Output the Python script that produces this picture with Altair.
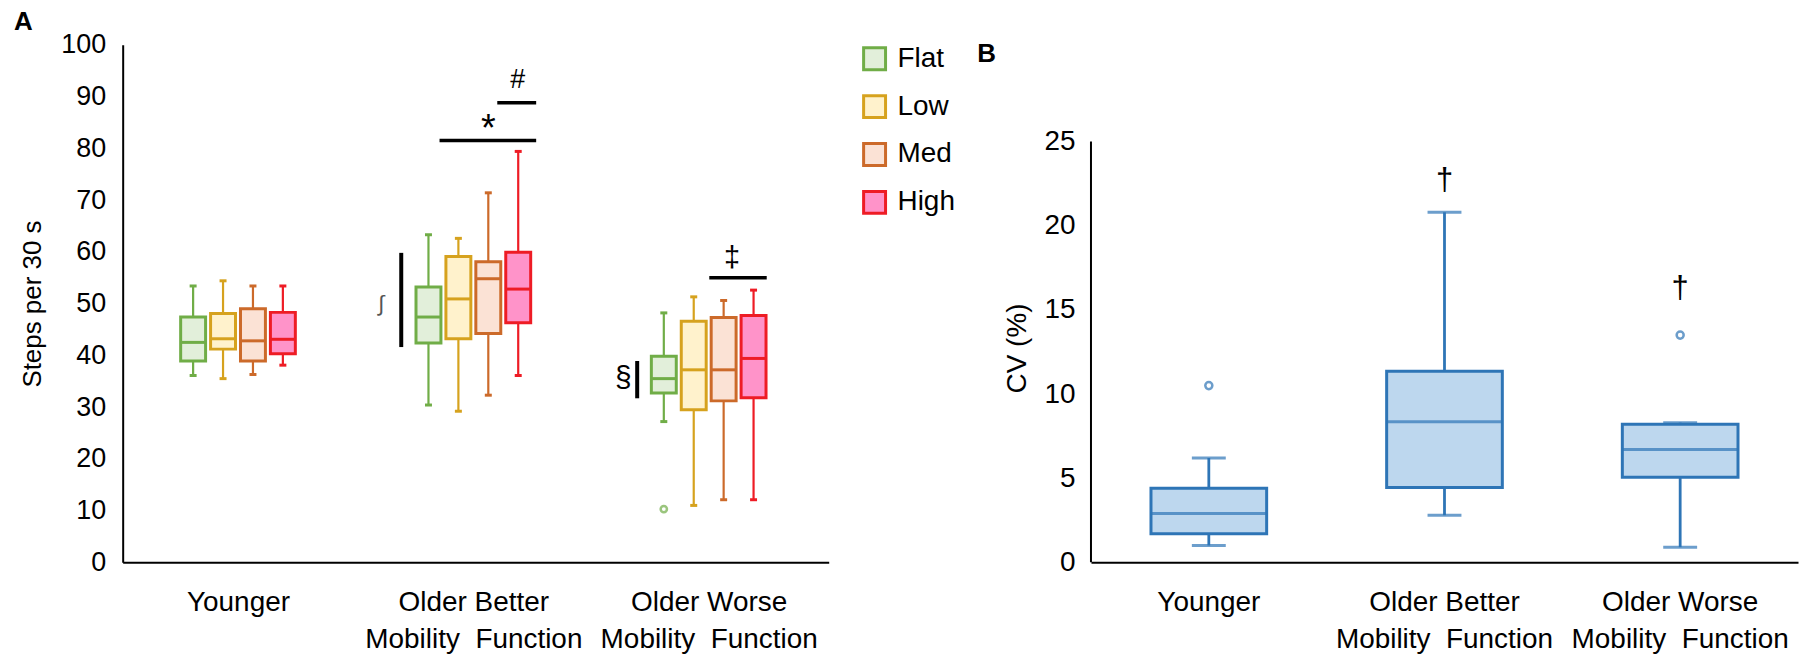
import json
import altair as alt
import pandas as pd

FONT = "Liberation Sans"

# ---------------- data ----------------
# (" \u00a0" keeps the double space between the words in SVG text)
groups = ["Younger", "Older Better\nMobility \u00a0Function", "Older Worse\nMobility \u00a0Function"]
series = ["Flat", "Low", "Med", "High"]
stroke_colors = ["#70AD47", "#D6A21E", "#CC6A2A", "#EE1C25"]
fill_colors = ["#E2EFDA", "#FFF2CC", "#FBE2D5", "#FF93C9"]

# Panel A: steps per 30 s  (rows = groups, columns = Flat, Low, Med, High)
a_whisker_lo = [[36.1, 35.5, 36.3, 38.1], [30.4, 29.2, 32.3, 36.1], [27.2, 11.0, 12.1, 12.1]]
a_q1 = [[38.9, 41.2, 38.9, 40.3], [42.4, 43.2, 44.2, 46.3], [32.7, 29.5, 31.2, 31.8]]
a_median = [[42.5, 43.2, 42.8, 43.1], [47.4, 50.9, 54.8, 52.8], [35.5, 37.2, 37.2, 39.4]]
a_q3 = [[47.4, 48.1, 49.0, 48.3], [53.2, 59.1, 58.1, 59.9], [39.8, 46.6, 47.3, 47.7]]
a_whisker_hi = [[53.4, 54.4, 53.4, 53.4], [63.3, 62.6, 71.4, 79.4], [48.2, 51.3, 50.6, 52.6]]
a_outlier_group = [2]
a_outlier_series = ["Flat"]
a_outlier_value = [10.3]

# Panel A significance marks (slot = series index, fractional)
a_bar_group = [1, 1, 2]
a_bar_from = [0.37, 2.3, 1.52]
a_bar_to = [3.6, 3.6, 3.44]
a_bar_value = [81.5, 88.8, 55.0]
a_vbar_group = [1, 2]
a_vbar_slot = [-0.91, -0.89]
a_vbar_lo = [41.6, 31.7]
a_vbar_hi = [59.8, 38.9]
a_sig_text = ["*", "#", "\u2021", "\u222B", "\u00A7"]
a_sig_group = [1, 1, 2, 1, 2]
a_sig_slot = [2.0, 2.98, 2.28, -1.58, -1.35]
a_sig_value = [81.4, 91.6, 57.1, 48.6, 33.9]
a_sig_size = [38, 27, 29, 22, 30]
a_sig_color = ["black", "black", "black", "#555555", "black"]

# Panel B: CV (%)
b_whisker_lo = [1.0, 2.8, 0.9]
b_q1 = [1.7, 4.45, 5.05]
b_median = [2.9, 8.35, 6.7]
b_q3 = [4.4, 11.35, 8.2]
b_whisker_hi = [6.2, 20.8, 8.3]
b_outlier_group = [0, 2]
b_outlier_value = [10.5, 13.5]
b_sig_group = [1, 2]
b_sig_text = ["\u2020", "\u2020"]
b_sig_value = [22.1, 15.7]

# ---------------- panel A ----------------
A_W, H = 708, 519
step = 30 / 236.0       # width of one series slot in group units
half_box = 12.5 / 236.0
half_cap = 3.5 / 236.0


def xpos(gi, slot):
    return gi + (slot - 1.5) * step


rows = []
for gi, g in enumerate(groups):
    for si, s in enumerate(series):
        xc = xpos(gi, si)
        rows.append(dict(group=g, series=s, x=xc, xl=xc - half_box, xr=xc + half_box,
                         cl=xc - half_cap, cr=xc + half_cap,
                         lo=a_whisker_lo[gi][si], q1=a_q1[gi][si], med=a_median[gi][si],
                         q3=a_q3[gi][si], hi=a_whisker_hi[gi][si]))
dfA = pd.DataFrame(rows)

dfAout = pd.DataFrame({
    "series": a_outlier_series,
    "x": [xpos(g, series.index(s)) for g, s in zip(a_outlier_group, a_outlier_series)],
    "v": a_outlier_value,
})
dfAbar = pd.DataFrame({
    "x": [xpos(g, f) for g, f in zip(a_bar_group, a_bar_from)],
    "x2": [xpos(g, t) for g, t in zip(a_bar_group, a_bar_to)],
    "v": a_bar_value,
})
dfAvbar = pd.DataFrame({
    "x": [xpos(g, s) for g, s in zip(a_vbar_group, a_vbar_slot)],
    "lo": a_vbar_lo, "hi": a_vbar_hi,
})
dfAtext = pd.DataFrame({
    "t": a_sig_text,
    "x": [xpos(g, s) for g, s in zip(a_sig_group, a_sig_slot)],
    "v": a_sig_value, "fs": a_sig_size, "c": a_sig_color,
})

label_lists = json.dumps([g.split("\n") for g in groups])

xsA = alt.Scale(domain=[-0.49, 2.51], nice=False, zero=False)
ysA = alt.Scale(domain=[0, 100], nice=False)
stroke_scale = alt.Scale(domain=series, range=stroke_colors)
fill_scale = alt.Scale(domain=series, range=fill_colors)

axA_x = alt.Axis(values=[0, 1, 2], labelExpr=f"{label_lists}[round(datum.value)]",
                 ticks=False, tickSize=0, grid=False, domainColor="black", domainWidth=2,
                 labelFont=FONT, labelFontSize=28, labelColor="black", labelPadding=26,
                 labelLineHeight=37, labelOverlap=False, labelFlush=False, labelLimit=0,
                 title=None)
axA_y = alt.Axis(values=list(range(0, 101, 10)), ticks=False, tickSize=0, grid=False,
                 domainColor="black", domainWidth=2, labelFont=FONT, labelFontSize=27,
                 labelColor="black", labelPadding=17, title="Steps per 30 s",
                 titleFont=FONT, titleFontSize=26, titleFontWeight="normal",
                 titleColor="black", titlePadding=15)

legend = alt.Legend(title=None, orient="none", legendX=740, legendY=0, symbolType="square",
                    symbolSize=484, symbolStrokeWidth=3, labelFont=FONT, labelFontSize=28,
                    labelColor="black", rowPadding=14, labelOffset=9)

baseA = alt.Chart(dfA)
whiskA = baseA.mark_rule(strokeWidth=2.2).encode(
    x=alt.X("x:Q", scale=xsA, axis=axA_x),
    y=alt.Y("lo:Q", scale=ysA, axis=axA_y),
    y2="hi:Q",
    stroke=alt.Stroke("series:N", scale=stroke_scale, legend=legend),
)
capLoA = baseA.mark_rule(strokeWidth=3).encode(
    x="cl:Q", x2="cr:Q", y="lo:Q",
    stroke=alt.Stroke("series:N", scale=stroke_scale, legend=legend))
capHiA = baseA.mark_rule(strokeWidth=3).encode(
    x="cl:Q", x2="cr:Q", y="hi:Q",
    stroke=alt.Stroke("series:N", scale=stroke_scale, legend=legend))
boxA = baseA.mark_bar(strokeWidth=3).encode(
    x="xl:Q", x2="xr:Q", y="q1:Q", y2="q3:Q",
    fill=alt.Fill("series:N", scale=fill_scale, legend=legend),
    stroke=alt.Stroke("series:N", scale=stroke_scale, legend=legend),
)
medA = baseA.mark_rule(strokeWidth=3).encode(
    x="xl:Q", x2="xr:Q", y="med:Q",
    stroke=alt.Stroke("series:N", scale=stroke_scale, legend=legend))
outA = alt.Chart(dfAout).mark_point(filled=False, size=40, strokeWidth=2.5).encode(
    x="x:Q", y="v:Q",
    stroke=alt.Stroke("series:N", scale=stroke_scale, legend=legend))
barsA = alt.Chart(dfAbar).mark_rule(strokeWidth=3.5, color="black").encode(
    x="x:Q", x2="x2:Q", y="v:Q")
vbarsA = alt.Chart(dfAvbar).mark_rule(strokeWidth=4, color="black").encode(
    x="x:Q", y="lo:Q", y2="hi:Q")
textA = alt.Chart(dfAtext).mark_text(font=FONT, align="center", baseline="alphabetic").encode(
    x="x:Q", y="v:Q", text="t:N",
    size=alt.Size("fs:Q", scale=None, legend=None),
    color=alt.Color("c:N", scale=None, legend=None))

panelA = alt.layer(whiskA, boxA, medA, capLoA, capHiA, outA, barsA, vbarsA, textA).properties(
    width=A_W, height=H,
    title=alt.TitleParams("A", anchor="start", frame="bounds", font=FONT, fontSize=26,
                          fontWeight="bold", color="black", offset=-4, dx=-6),
)

# ---------------- panel B ----------------
B_W = 709
B_TOP = 25
b_dom_max = 25 * H / 422.0

dfB = pd.DataFrame({"group": groups, "lo": b_whisker_lo, "q1": b_q1, "med": b_median,
                    "q3": b_q3, "hi": b_whisker_hi})
dfBout = pd.DataFrame({"group": [groups[i] for i in b_outlier_group], "v": b_outlier_value})
dfBtext = pd.DataFrame({"group": [groups[i] for i in b_sig_group], "t": b_sig_text,
                        "v": b_sig_value})
dfBaxis = pd.DataFrame({"lo": [0], "hi": [B_TOP]})

BLUE = "#2E75B6"
BFILL = "#BDD7EE"
xsB = alt.Scale(domain=groups, paddingInner=0.1, paddingOuter=0.05)
ysB = alt.Scale(domain=[0, b_dom_max], nice=False)
axB_x = alt.Axis(labelExpr="split(datum.label, '\\n')", labelAngle=0, ticks=False, tickSize=0,
                 grid=False, domainColor="black", domainWidth=2, labelFont=FONT,
                 labelFontSize=28, labelColor="black", labelPadding=26, labelLineHeight=37,
                 labelLimit=0, title=None)
axB_y = alt.Axis(values=[0, 5, 10, 15, 20, 25], ticks=False, tickSize=0, grid=False,
                 domain=False, labelFont=FONT, labelFontSize=28, labelColor="black",
                 labelPadding=16, title="CV (%)", titleFont=FONT, titleFontSize=28,
                 titleFontWeight="normal", titleColor="black", titlePadding=13, titleY=304)

baseB = alt.Chart(dfB)
whiskB = baseB.mark_rule(strokeWidth=2.8, color=BLUE).encode(
    x=alt.X("group:N", scale=xsB, axis=axB_x, sort=groups),
    y=alt.Y("lo:Q", scale=ysB, axis=axB_y),
    y2="hi:Q",
)
capLoB = baseB.mark_tick(size=34, thickness=3, color=BLUE).encode(x="group:N", y="lo:Q")
capHiB = baseB.mark_tick(size=34, thickness=3, color=BLUE).encode(x="group:N", y="hi:Q")
boxB = baseB.mark_bar(size=116, fill=BFILL, stroke=BLUE, strokeWidth=3).encode(
    x="group:N", y="q1:Q", y2="q3:Q")
medB = baseB.mark_tick(size=116, thickness=3, color=BLUE).encode(x="group:N", y="med:Q")
outB = alt.Chart(dfBout).mark_point(filled=False, size=50, strokeWidth=2.5, color=BLUE).encode(
    x="group:N", y="v:Q")
textB = alt.Chart(dfBtext).mark_text(font=FONT, fontSize=31, align="center",
                                     baseline="alphabetic", color="black").encode(
    x="group:N", y="v:Q", text="t:N")
axisLineB = alt.Chart(dfBaxis).mark_rule(color="black", strokeWidth=2).encode(
    x=alt.value(0), y="lo:Q", y2="hi:Q")

panelB = alt.layer(whiskB, boxB, medB, capLoB, capHiB, outB, textB, axisLineB).properties(
    width=B_W, height=H,
    title=alt.TitleParams("B", anchor="start", frame="bounds", font=FONT, fontSize=26,
                          fontWeight="bold", color="black", offset=-4, dx=-26, dy=18),
)

chart = alt.hconcat(panelA, panelB, spacing=148).properties(
    padding={"left": 5, "top": 0, "right": 2, "bottom": 0}
).configure_view(stroke=None)

chart.save("out.html", embed_options={"renderer": "svg", "actions": False})
